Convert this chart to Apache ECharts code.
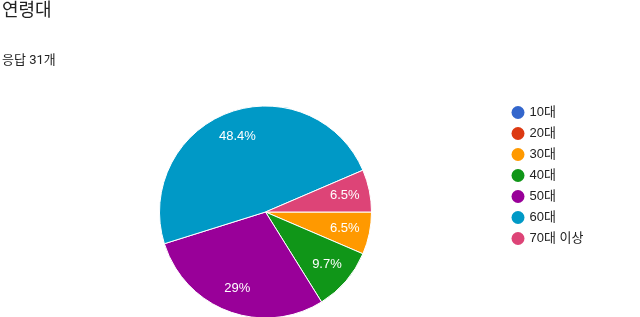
<!DOCTYPE html>
<html><head><meta charset="utf-8">
<script src="https://cdn.jsdelivr.net/npm/echarts@6/dist/echarts.min.js"></script>
<style>html,body{margin:0;padding:0;background:#fff}#c{width:640px;height:317px}</style>
</head><body><div id="c"></div>
<script>
const categories = ['10대','20대','30대','40대','50대','60대','70대 이상'];
const counts = [0,0,2,3,9,15,2];
const colors = ['#3366cc','#dc3912','#ff9900','#109618','#990099','#0099c6','#dd4477'];
const titleText = '연령대';
const subText = '응답 31개';

const FONT = "Roboto, 'Noto Sans CJK KR', sans-serif";
const AFONT = "'Liberation Sans', Arial, 'Noto Sans CJK KR', sans-serif";
const total = counts.reduce((a,b)=>a+b,0);
const data = categories.map((c,i)=>({name:c, value:counts[i], itemStyle:{color:colors[i]}}));
const fmt = p => p.value > 0 ? (parseFloat((p.value/total*100).toFixed(1))) + '%' : '';

const chart = echarts.init(document.getElementById('c'), null, {renderer:'canvas'});
chart.setOption({
  animation:false,
  color: colors,
  title:[
    {text: titleText, left: 2, top: 3, padding: 0,
     textStyle:{fontFamily:FONT, fontSize:18, fontWeight:'normal', color:'#212121'}},
    {text: subText, left: 2, top: 54, padding: 0,
     textStyle:{fontFamily:FONT, fontSize:13, fontWeight:'normal', color:'#212121'}}
  ],
  legend:{
    orient:'vertical', left:506.5, top:101, icon:'circle', itemWidth:13, itemHeight:13, itemGap:8,
    data: categories, itemStyle:{borderWidth:0},
    textStyle:{fontFamily:AFONT, fontSize:13, color:'#222'}
  },
  series:[
    {
      type:'pie', center:[265.5,212], radius:[0,106], startAngle:0, clockwise:true,
      data: data, label:{show:false}, labelLine:{show:false},
      itemStyle:{borderColor:'#fff', borderWidth:1},
      emphasis:{disabled:true}
    },
    {
      type:'pie', center:[265.5,212], radius:[50,106], startAngle:0, clockwise:true,
      data: data.map(d=>({name:d.name, value:d.value})), silent:true,
      itemStyle:{color:'rgba(0,0,0,0)', borderWidth:0},
      label:{show:true, position:'inside', formatter: fmt, color:'#fff', fontFamily:AFONT, fontSize:13},
      labelLine:{show:false}, emphasis:{disabled:true}, legendHoverLink:false
    }
  ]
});
</script></body></html>
